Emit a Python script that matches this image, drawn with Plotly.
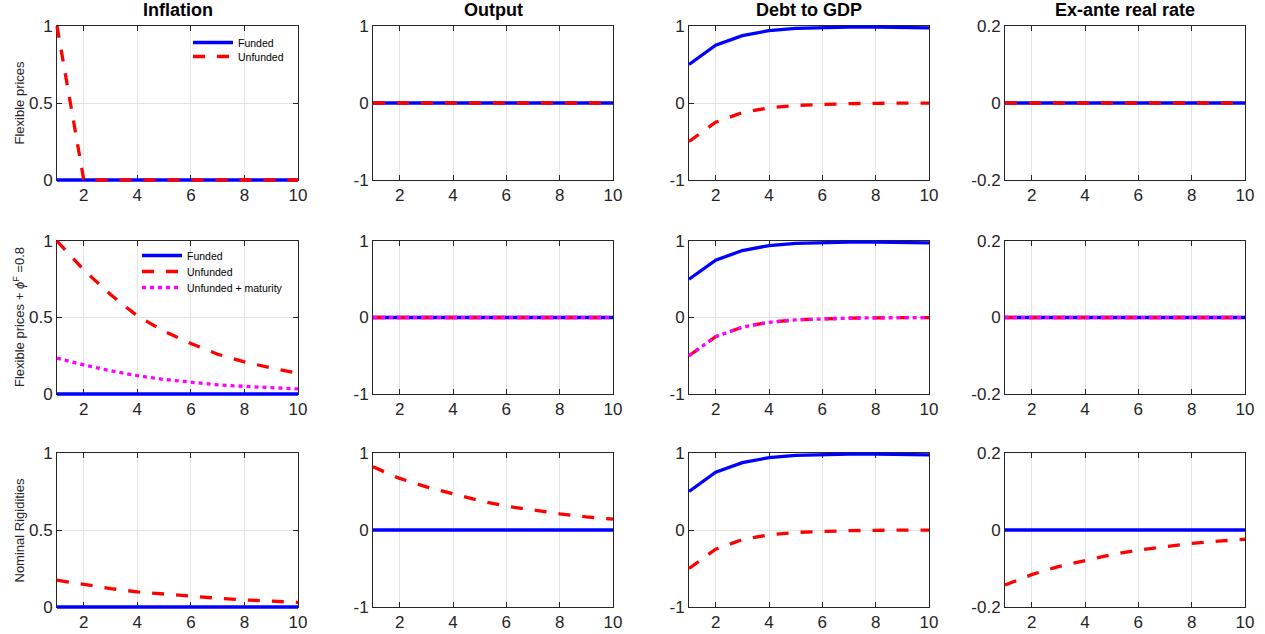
import plotly.graph_objects as go
from plotly.subplots import make_subplots

periods = [1, 2, 3, 4, 5, 6, 7, 8, 9, 10]
zeros = [0, 0, 0, 0, 0, 0, 0, 0, 0, 0]

col_titles = ["Inflation", "Output", "Debt to GDP", "Ex-ante real rate"]
row_titles = ["Flexible prices", "Flexible prices + <i>ϕ</i><sup>F</sup> =0.8", "Nominal Rigidities"]
series_names = ["Funded", "Unfunded", "Unfunded + maturity"]

# Row 1: flexible prices
r1_infl_unf = [1, 0, 0, 0, 0, 0, 0, 0, 0, 0]
debt_funded = [0.5, 0.75, 0.875, 0.94, 0.97, 0.98, 0.985, 0.985, 0.98, 0.975]
debt_unfunded = [-0.5, -0.25, -0.125, -0.0625, -0.031, -0.016, -0.008, -0.004, -0.002, -0.001]

# Row 2: flexible prices + phi^F = 0.8
r2_infl_unf = [1, 0.81, 0.65, 0.51, 0.41, 0.33, 0.26, 0.21, 0.17, 0.135]
r2_infl_mat = [0.234, 0.19, 0.152, 0.12, 0.095, 0.075, 0.06, 0.05, 0.04, 0.033]

# Row 3: nominal rigidities
r3_infl_unf = [0.174, 0.146, 0.12, 0.098, 0.083, 0.07, 0.057, 0.046, 0.038, 0.03]
r3_out_unf = [0.82, 0.67, 0.56, 0.465, 0.38, 0.31, 0.255, 0.21, 0.17, 0.14]
r3_rate_unf = [-0.143, -0.116, -0.095, -0.08, -0.064, -0.052, -0.043, -0.035, -0.029, -0.024]

# data[row][col] = (funded, unfunded, maturity or None)
data = [
    [(zeros, r1_infl_unf, None), (zeros, zeros, None), (debt_funded, debt_unfunded, None), (zeros, zeros, None)],
    [(zeros, r2_infl_unf, r2_infl_mat), (zeros, zeros, zeros), (debt_funded, debt_unfunded, debt_unfunded), (zeros, zeros, zeros)],
    [(zeros, r3_infl_unf, None), (zeros, r3_out_unf, None), (debt_funded, debt_unfunded, None), (zeros, r3_rate_unf, None)],
]

y_ranges = [[0, 1], [-1, 1], [-1, 1], [-0.2, 0.2]]
y_ticks = [[0, 0.5, 1], [-1, 0, 1], [-1, 0, 1], [-0.2, 0, 0.2]]
y_ticktext = [["0", "0.5", "1"], ["-1", "0", "1"], ["-1", "0", "1"], ["-0.2", "0", "0.2"]]
x_range = [1, 10]
x_ticks = [2, 4, 6, 8, 10]

W, H = 1265, 634
col_px = [(57, 298), (373, 613), (689, 929), (1005, 1245)]
row_px = [(26, 180), (241, 394), (453, 607)]
PAD = 4  # px: data axes extend slightly beyond the frame so lines on the edge are not clipped

# Frame axes (1..12) come from make_subplots; data axes are 13..24 drawn on top
fig = make_subplots(rows=3, cols=4)

BLUE, RED, MAG = "#0000FF", "#FF0000", "#FF00FF"
styles = [dict(color=BLUE, width=3.3),
          dict(color=RED, width=3.3, dash="12px,12px"),
          dict(color=MAG, width=3.3, dash="4px,4px")]
FONT = "Liberation Sans, Arial, sans-serif"
AX = "#262626"

legend_ids = {(0, 0): "legend", (0, 1): "legend2",
              (1, 0): "legend3", (1, 1): "legend4", (1, 2): "legend5"}


def ax_key(kind, i):
    return kind + "axis" + ("" if i == 1 else str(i))


def ax_ref(kind, i):
    return kind + ("" if i == 1 else str(i))


# pass 1: frame subplots (empty helper trace so each frame is drawn)
for r in range(3):
    for c in range(4):
        idx = r * 4 + c + 1
        x0, x1 = col_px[c]
        y0, y1 = row_px[r]
        common = dict(showline=True, linecolor=AX, linewidth=1, mirror="ticks",
                      ticks="inside", ticklen=5, tickcolor=AX, tickwidth=1,
                      showgrid=True, gridcolor="#e3e3e3", gridwidth=1, zeroline=False,
                      automargin=False, fixedrange=True,
                      tickfont=dict(family=FONT, size=17, color=AX))
        fig.layout[ax_key("x", idx)].update(domain=[x0 / W, x1 / W], range=x_range, tickvals=x_ticks,
                                            ticktext=[str(v) for v in x_ticks], **common)
        fig.layout[ax_key("y", idx)].update(domain=[1 - y1 / H, 1 - y0 / H], range=y_ranges[c],
                                            tickvals=y_ticks[c], ticktext=y_ticktext[c], **common)
        fig.add_trace(go.Scatter(x=[], y=[], mode="lines", showlegend=False, hoverinfo="skip",
                                 xaxis=ax_ref("x", idx), yaxis=ax_ref("y", idx)))

# pass 2: invisible data axes with the same scale and a padded domain, plus the series
for r in range(3):
    for c in range(4):
        idx = r * 4 + c + 1
        didx = idx + 12
        x0, x1 = col_px[c]
        y0, y1 = row_px[r]
        xs = (x_range[1] - x_range[0]) / (x1 - x0)
        ys = (y_ranges[c][1] - y_ranges[c][0]) / (y1 - y0)
        fig.layout[ax_key("x", didx)] = dict(
            domain=[(x0 - PAD) / W, (x1 + PAD) / W],
            range=[x_range[0] - PAD * xs, x_range[1] + PAD * xs],
            anchor=f"y{didx}", visible=False, fixedrange=True, automargin=False)
        fig.layout[ax_key("y", didx)] = dict(
            domain=[1 - (y1 + PAD) / H, 1 - (y0 - PAD) / H],
            range=[y_ranges[c][0] - PAD * ys, y_ranges[c][1] + PAD * ys],
            anchor=f"x{didx}", visible=False, fixedrange=True, automargin=False)

        for k, yv in enumerate(data[r][c]):
            if yv is None:
                continue
            show = (c == 0 and (r, k) in legend_ids)
            kw = dict(legend=legend_ids[(r, k)]) if show else {}
            fig.add_trace(go.Scatter(x=periods, y=yv, mode="lines", name=series_names[k],
                                     line=styles[k], showlegend=show,
                                     xaxis=f"x{didx}", yaxis=f"y{didx}", **kw))

annotations = []
for c in range(4):
    x0, x1 = col_px[c]
    annotations.append(dict(text=f"<b>{col_titles[c]}</b>", x=(x0 + x1) / 2 / W, y=1 - 10 / H,
                            xref="paper", yref="paper", xanchor="center", yanchor="middle",
                            showarrow=False, font=dict(family=FONT, size=18, color="#000000")))
for r in range(3):
    y0, y1 = row_px[r]
    annotations.append(dict(text=row_titles[r], x=18.5 / W, y=1 - (y0 + y1) / 2 / H,
                            xref="paper", yref="paper", xanchor="center", yanchor="middle",
                            textangle=-90, showarrow=False, font=dict(family=FONT, size=13, color=AX)))

leg_common = dict(bgcolor="rgba(0,0,0,0)", borderwidth=0, xanchor="left", yanchor="top",
                  font=dict(family=FONT, size=10.5, color="#000000"), itemwidth=40)

# legend item positions (px): row 1 at x=193, y=43/57; row 2 at x=142, y=256/272/288
OFF_X, OFF_Y = 5, 15
legend_layout = {
    "legend": dict(x=(193 - OFF_X) / W, y=1 - (43 - OFF_Y) / H, **leg_common),
    "legend2": dict(x=(193 - OFF_X) / W, y=1 - (57 - OFF_Y) / H, **leg_common),
    "legend3": dict(x=(142 - OFF_X) / W, y=1 - (256 - OFF_Y) / H, **leg_common),
    "legend4": dict(x=(142 - OFF_X) / W, y=1 - (272 - OFF_Y) / H, **leg_common),
    "legend5": dict(x=(142 - OFF_X) / W, y=1 - (288 - OFF_Y) / H, **leg_common),
}

fig.update_layout(
    width=W, height=H,
    margin=dict(l=0, r=0, t=0, b=0, autoexpand=False),
    paper_bgcolor="white", plot_bgcolor="rgba(0,0,0,0)",
    annotations=annotations,
    **legend_layout,
)

fig.write_html("out.html")
